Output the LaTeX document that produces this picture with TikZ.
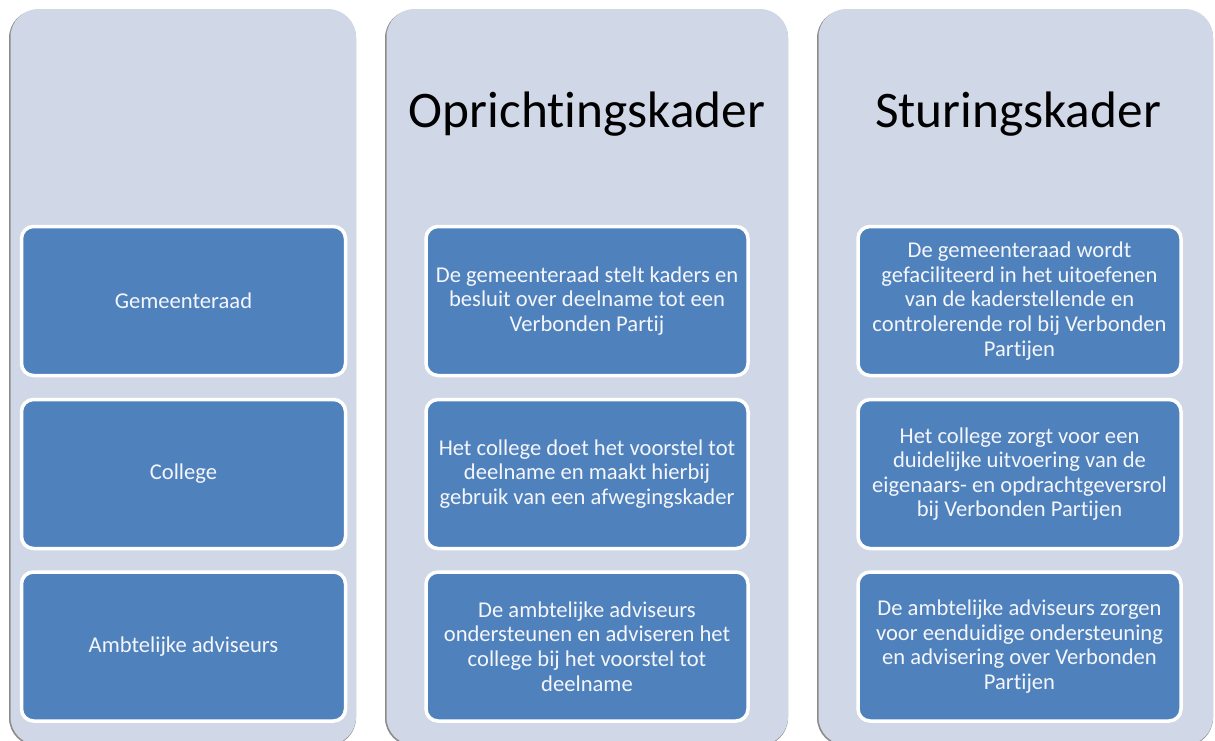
\documentclass[tikz,border=0pt]{standalone}
\usepackage{fontspec}
\setmainfont[Ligatures=NoCommon]{Carlito}
\begin{document}
\begin{tikzpicture}[x=1pt,y=-1pt,
  colbox/.style={fill=colfill, rounded corners=28pt},
  colshadow/.style={fill=black!45, rounded corners=28pt},
  item/.style={draw=white, line width=3.5pt, fill=itemblue, rounded corners=12pt, text=itemtext,
    align=center, font=\fontsize{22.6}{24.6}\selectfont, inner sep=0pt},
  title/.style={font=\fontsize{51.3}{56}\selectfont, text=black}]
\definecolor{colfill}{HTML}{D0D8E7}
\definecolor{itemblue}{HTML}{4F81BD}
\definecolor{itemtext}{HTML}{F4F6FA}
\useasboundingbox (0,0) rectangle (1215,740);
\begin{scope}
\clip (0,0) rectangle (1215,740);
% column shadows
\fill[colshadow] (9,10) rectangle (356,746);
\fill[colshadow] (385,10) rectangle (788,746);
\fill[colshadow] (817,10) rectangle (1213,746);
% columns
\fill[colbox] (10.5,9) rectangle (356,745);
\fill[colbox] (386.5,9) rectangle (788,745);
\fill[colbox] (818.5,9) rectangle (1213,745);
\end{scope}
% titles
\node[title] (t2) at (587,114) {Oprichtingskader};
\node[title] (t3) at (1018,114) {Sturingskader};
% column 1
\node[item, minimum width=324pt, minimum height=149pt] (a1) at (183.5,301) {Gemeenteraad};
\node[item, minimum width=324pt, minimum height=149pt] (a2) at (183.5,474) {College};
\node[item, minimum width=324pt, minimum height=149pt] (a3) at (183.5,646.5) {Ambtelijke adviseurs};
% column 2
\node[item, minimum width=322pt, minimum height=149pt] (b1) at (587,301) {De gemeenteraad stelt kaders en\\besluit over deelname tot een\\Verbonden Partij};
\node[item, minimum width=322pt, minimum height=149pt] (b2) at (587,474) {Het college doet het voorstel tot\\deelname en maakt hierbij\\gebruik van een afwegingskader};
\node[item, minimum width=322pt, minimum height=149pt] (b3) at (587,646.5) {De ambtelijke adviseurs\\ondersteunen en adviseren het\\college bij het voorstel tot\\deelname};
% column 3
\node[item, minimum width=323pt, minimum height=149pt] (c1) at (1019.5,301) {De gemeenteraad wordt\\gefaciliteerd in het uitoefenen\\van de kaderstellende en\\controlerende rol bij Verbonden\\Partijen};
\node[item, minimum width=323pt, minimum height=149pt] (c2) at (1019.5,474) {Het college zorgt voor een\\duidelijke uitvoering van de\\eigenaars- en opdrachtgeversrol\\bij Verbonden Partijen};
\node[item, minimum width=323pt, minimum height=149pt] (c3) at (1019.5,646.5) {De ambtelijke adviseurs zorgen\\voor eenduidige ondersteuning\\en advisering over Verbonden\\Partijen};
\end{tikzpicture}
\end{document}
